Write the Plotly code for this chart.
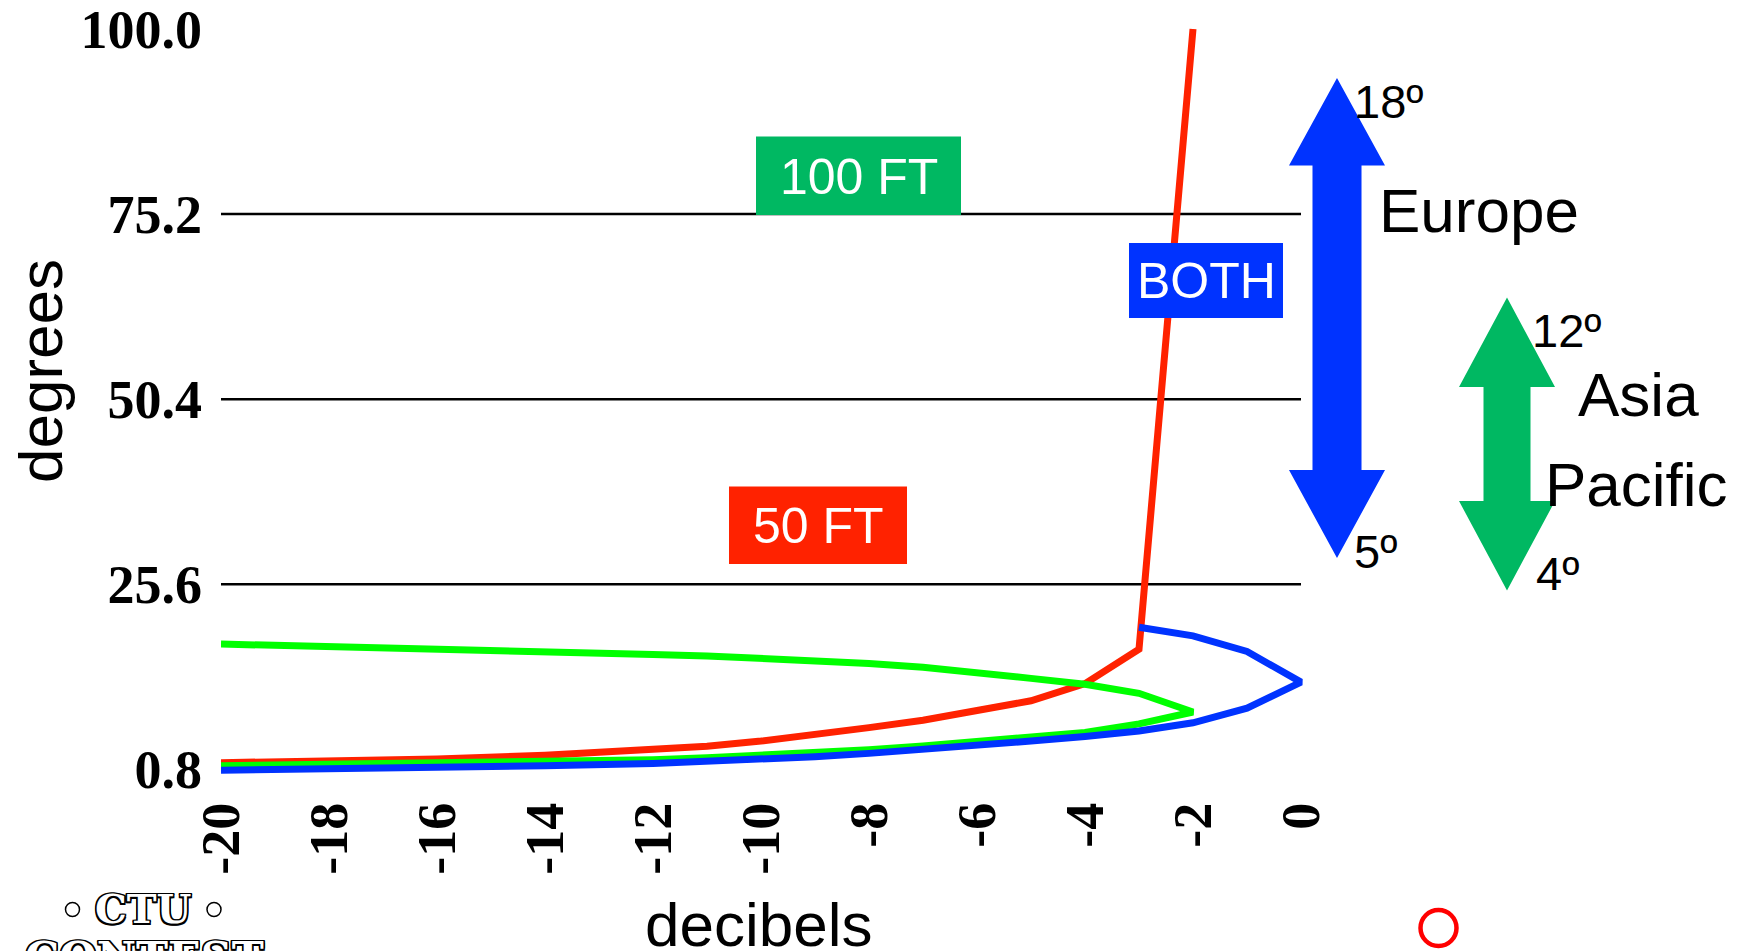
import plotly.graph_objects as go

# ---------------- data ----------------
red_db = [-20, -18, -16, -14, -12, -11, -10, -9, -8, -7, -6, -5, -4, -3, -2]
red_deg = [1.7, 1.9, 2.2, 2.7, 3.4, 3.9, 4.6, 5.4, 6.4, 7.4, 8.6, 10.0, 12.3, 16.9, 100.0]

green_db = [-20, -18, -16, -14, -12, -11, -10, -9, -8, -7, -6, -5, -4, -3, -2,
            -3, -4, -5, -6, -7, -8, -9, -10, -11, -12, -14, -16, -18, -20]
green_deg = [1.3, 1.45, 1.6, 1.8, 2.1, 2.35, 2.65, 3.0, 3.45, 3.95, 4.5, 5.1, 5.75, 6.9, 8.5,
             11.0, 12.2, 13.0, 13.8, 14.5, 15.0, 15.4, 15.7, 16.0, 16.2, 16.6, 16.95, 17.3, 17.6]

blue_db = [-20, -18, -16, -14, -12, -11, -10, -9, -8, -7, -6, -5, -4, -3, -2, -1, 0, -1, -2, -3]
blue_deg = [0.7, 0.85, 1.05, 1.3, 1.6, 1.85, 2.15, 2.5, 2.95, 3.45, 4.0, 4.6, 5.2, 5.95, 7.05,
            9.0, 12.5, 16.6, 18.7, 19.85]

y_ticks = [0.8, 25.6, 50.4, 75.2, 100.0]
y_ticktext = ["0.8", "25.6", "50.4", "75.2", "100.0"]
x_ticks = [-20, -18, -16, -14, -12, -10, -8, -6, -4, -2, 0]
grid_vals = [25.6, 50.4, 75.2]

# ---------------- layout geometry ----------------
OFF = 8                      # default page margin of the html body
W, H = 1754 - OFF, 951 - OFF
PL_PAGE, PB_PAGE = 221, 800  # plot-area left / bottom edge in page pixels
PX_PER_DB = 54.0
PX_PER_DEG = 7.464
Y100_PAGE = 29.0

L = PL_PAGE - OFF
B = H - (PB_PAGE - OFF)
PLOT_W = W - L
PLOT_H = H - B

x_max = -20 + PLOT_W / PX_PER_DB
y_top = 100 + (Y100_PAGE - OFF) / PX_PER_DEG
y_bot = 100 - (PB_PAGE - Y100_PAGE) / PX_PER_DEG


def px(xp):
    return (xp - OFF - L) / PLOT_W


def py(yp):
    return (PLOT_H - (yp - OFF)) / PLOT_H


RED = "#ff2200"
GREEN_LINE = "#00ff00"
BLUE = "#0033ff"
GREEN_BOX = "#00b862"
LW = 7

fig = go.Figure()
fig.add_trace(go.Scatter(x=red_db, y=red_deg, mode="lines",
                         line=dict(color=RED, width=LW), showlegend=False))
fig.add_trace(go.Scatter(x=green_db, y=green_deg, mode="lines",
                         line=dict(color=GREEN_LINE, width=LW), showlegend=False))
fig.add_trace(go.Scatter(x=blue_db, y=blue_deg, mode="lines",
                         line=dict(color=BLUE, width=LW), showlegend=False))

shapes = []
for g in grid_vals:
    shapes.append(dict(type="line", xref="x", yref="y", x0=-20, x1=0, y0=g, y1=g,
                       line=dict(color="black", width=2.5), layer="below"))


def rect(x0, y0, x1, y1, color):
    return dict(type="rect", xref="paper", yref="paper",
                x0=px(x0), x1=px(x1), y0=py(y1), y1=py(y0),
                fillcolor=color, line=dict(width=0), layer="above")


def double_arrow(cx, tip_top, base_top, base_bot, tip_bot, head_half, shaft_half, color):
    pts = [(cx, tip_top), (cx + head_half, base_top), (cx + shaft_half, base_top),
           (cx + shaft_half, base_bot), (cx + head_half, base_bot), (cx, tip_bot),
           (cx - head_half, base_bot), (cx - shaft_half, base_bot),
           (cx - shaft_half, base_top), (cx - head_half, base_top)]
    path = "M " + " L ".join(f"{px(a):.5f},{py(b):.5f}" for a, b in pts) + " Z"
    return dict(type="path", xref="paper", yref="paper", path=path,
                fillcolor=color, line=dict(width=0), layer="above")


shapes.append(rect(756, 136.5, 961, 215, GREEN_BOX))
shapes.append(rect(729, 486.5, 907, 564, RED))
shapes.append(rect(1129, 243, 1283, 318, BLUE))
shapes.append(double_arrow(1337, 78, 165.5, 470, 558, 48, 24.5, BLUE))
shapes.append(double_arrow(1507, 297.5, 387, 501, 590.5, 48, 23.5, GREEN_BOX))

# red circle at the bottom
shapes.append(dict(type="circle", xref="paper", yref="paper",
                   x0=px(1420.5), x1=px(1456.5), y0=py(946), y1=py(910),
                   line=dict(color="#ff0000", width=4.5), layer="above"))
# small circles of the logo
for cxp in (72.5, 214):
    shapes.append(dict(type="circle", xref="paper", yref="paper",
                       x0=px(cxp - 7), x1=px(cxp + 7), y0=py(916.5), y1=py(902.5),
                       line=dict(color="black", width=1.5), layer="above"))

annotations = []


def ann(text, x, y, size, color="black", xanchor="center", yanchor="middle",
        family="Liberation Sans", textangle=0, weight="normal", shadow=None):
    f = dict(family=family, size=size, color=color, weight=weight)
    if shadow:
        f["shadow"] = shadow
    annotations.append(dict(text=text, xref="paper", yref="paper", x=px(x), y=py(y),
                            xanchor=xanchor, yanchor=yanchor, showarrow=False,
                            font=f, textangle=textangle))


ann("100 FT", 858.5, 177, 50, color="white")
ann("50 FT", 818, 526, 50, color="white")
ann("BOTH", 1206, 281, 50, color="white")

ann("18º", 1352, 101, 47, xanchor="left")
ann("Europe", 1377, 210, 62, xanchor="left")
ann("12º", 1530, 330, 47, xanchor="left")
ann("Asia", 1576, 394, 62, xanchor="left")
ann("Pacific", 1543, 484, 62, xanchor="left")
ann("5º", 1352, 551, 47, xanchor="left")
ann("4º", 1534, 573, 47, xanchor="left")

ann("degrees", 40, 371, 62, textangle=-90)
ann("decibels", 758, 924, 62)

outline = ("-1.5px -1.5px 0 #000, 1.5px -1.5px 0 #000, -1.5px 1.5px 0 #000, "
           "1.5px 1.5px 0 #000, 0 1.5px 0 #000, 0 -1.5px 0 #000, 1.5px 0 0 #000, -1.5px 0 0 #000")
ann("CTU", 143, 909, 40, color="white", family="DejaVu Serif", weight="bold", shadow=outline)
ann("CONTEST", 144, 957, 43, color="white", family="DejaVu Serif", weight="bold", shadow=outline)

tick_font = dict(family="Liberation Serif", size=54, color="black", weight="bold")

fig.update_layout(
    width=W, height=H,
    margin=dict(l=L, r=0, t=0, b=B, pad=0),
    paper_bgcolor="white", plot_bgcolor="white",
    showlegend=False,
    shapes=shapes,
    annotations=annotations,
    xaxis=dict(range=[-20, x_max], tickmode="array", tickvals=x_ticks,
               ticktext=[str(v) for v in x_ticks], tickangle=-90,
               tickfont=tick_font, showgrid=False, zeroline=False, showline=False,
               ticks="", automargin=False, ticklabelstandoff=-9,
               ticklabeloverflow="allow"),
    yaxis=dict(range=[y_bot, y_top], tickmode="array", tickvals=y_ticks,
               ticktext=y_ticktext, tickfont=tick_font, showgrid=False,
               zeroline=False, showline=False, ticks="", automargin=False,
               ticklabelstandoff=18, ticklabeloverflow="allow"),
)

fig.write_html("out.html")
